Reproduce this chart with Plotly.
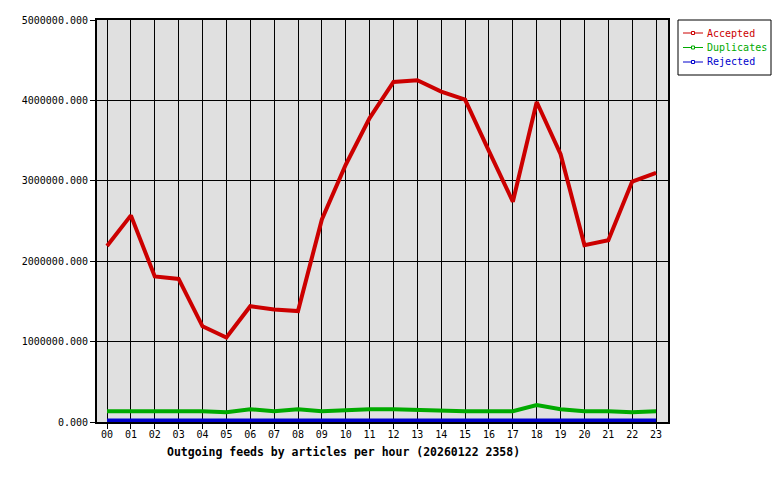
import plotly.graph_objects as go

hours = [f"{h:02d}" for h in range(24)]

accepted = [2190000, 2570000, 1810000, 1780000, 1190000, 1050000, 1440000, 1400000,
            1380000, 2520000, 3200000, 3780000, 4230000, 4250000, 4110000, 4010000,
            3370000, 2740000, 3980000, 3330000, 2200000, 2260000, 2990000, 3100000]
duplicates = [133000, 133000, 133000, 133000, 133000, 120000, 158000, 133000,
              158000, 133000, 146000, 158000, 158000, 146000, 133000, 133000,
              133000, 133000, 210000, 158000, 133000, 133000, 120000, 133000]
rejected = [20000] * 24

series = [
    ("Accepted", accepted, "#CC0000"),
    ("Duplicates", duplicates, "#00AA00"),
    ("Rejected", rejected, "#0000CC"),
]

mono = "DejaVu Sans Mono"
x_idx = list(range(24))

# page body has an 8px margin, so the figure is drawn slightly smaller
OFF = 8
W, H = 780 - OFF, 480 - OFF
# plot area in screen pixels, used to place the hand-drawn legend
L, R, T, B = 97, 668, 20, 422
def px(x):
    return (x - L) / (R - L)
def py(y):
    return (B - y) / (B - T)

fig = go.Figure()

for name, vals, col in series:
    fig.add_trace(go.Scatter(
        x=x_idx, y=vals, mode="lines",
        line=dict(color=col, width=4),
        showlegend=False, hoverinfo="skip",
    ))

# legend box drawn by hand (innreport style)
fig.add_shape(type="rect", xref="paper", yref="paper",
              x0=px(678), x1=px(771), y0=py(75), y1=py(20),
              line=dict(color="black", width=1), fillcolor="white")
for i, (name, vals, col) in enumerate(series):
    yy = py(33 + i * 14.5)
    fig.add_shape(type="line", xref="paper", yref="paper",
                  x0=px(683), x1=px(703), y0=yy, y1=yy,
                  line=dict(color=col, width=1))
    fig.add_shape(type="rect", xref="paper", yref="paper",
                  x0=px(691.5), x1=px(694.5), y0=yy - 1.5 / 402, y1=yy + 1.5 / 402,
                  line=dict(color=col, width=1), fillcolor="white")
    fig.add_annotation(text=name, xref="paper", yref="paper",
                       x=px(705), y=yy, xanchor="left", yanchor="middle",
                       showarrow=False,
                       font=dict(family=mono, size=10, color=col))

fig.add_annotation(
    text="<b>Outgoing feeds by articles per hour (20260122 2358)</b>",
    xref="paper", yref="paper", x=px(343), y=py(452),
    xanchor="center", yanchor="middle", showarrow=False,
    font=dict(family=mono, size=11.5, color="black"),
)

fig.update_layout(
    width=W, height=H,
    margin=dict(l=L - OFF, r=780 - R, t=T - OFF, b=480 - B),
    paper_bgcolor="white",
    plot_bgcolor="#E0E0E0",
    font=dict(family=mono, size=10, color="black"),
    showlegend=False,
    xaxis=dict(
        range=[-0.42, 23.5], automargin=False,
        tickmode="array", tickvals=x_idx, ticktext=hours,
        showgrid=True, gridcolor="black", gridwidth=1,
        showline=True, linecolor="black", linewidth=2, mirror=True,
        ticks="outside", ticklen=5, tickcolor="black",
        zeroline=False, tickangle=0, ticklabelstandoff=-3,
    ),
    yaxis=dict(
        range=[0, 5000000], automargin=False,
        tickmode="array", tickvals=[0, 1000000, 2000000, 3000000, 4000000, 5000000],
        tickformat=".3f",
        showgrid=True, gridcolor="black", gridwidth=1,
        showline=True, linecolor="black", linewidth=2, mirror=True,
        ticks="outside", ticklen=5, tickcolor="black",
        zeroline=False,
    ),
)

fig.write_html("out.html")
